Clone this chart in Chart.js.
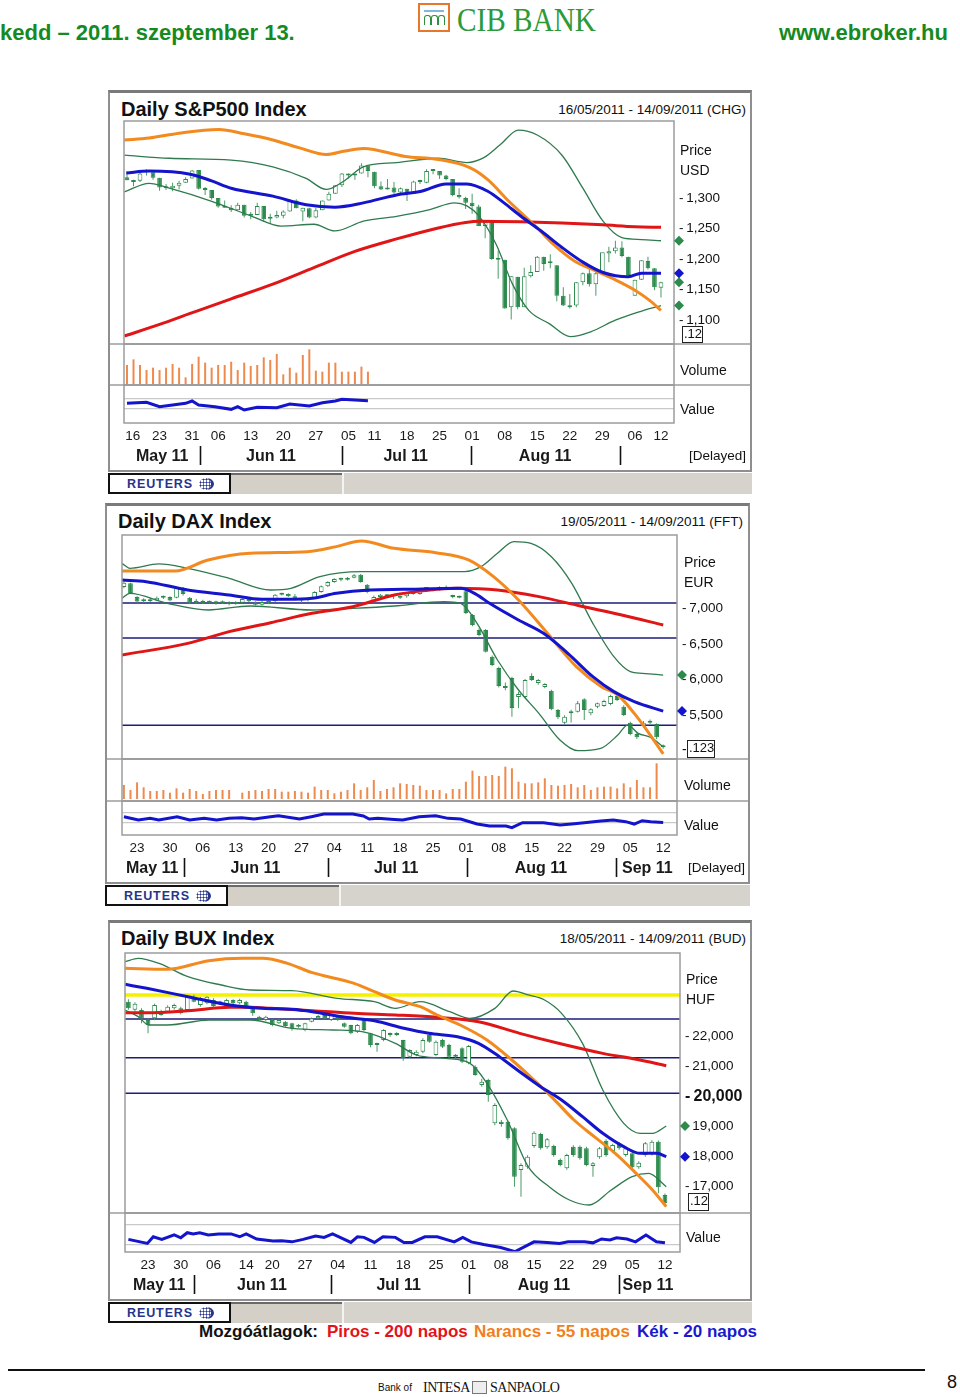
<!DOCTYPE html>
<html>
<head>
<meta charset="utf-8">
<script src="https://cdn.jsdelivr.net/npm/chart.js@4.4.0/dist/chart.umd.min.js"></script>
<style>
  body { margin: 0; background: #fff; }
  #page { position: relative; width: 960px; height: 1397px; overflow: hidden; background: #fff;
    font-family: "Liberation Sans", Arial, sans-serif; color: #111; }
  .t { position: absolute; white-space: nowrap; line-height: 1; }
  .hdr { font-size: 22px; font-weight: bold; color: #168a22; }
  .box { position: absolute; box-sizing: border-box; border: 2px solid #8f8f8f; border-top: 3px solid #7a7a7a; }
  .title { font-size: 20px; font-weight: bold; }
  .range { font-size: 13.5px; }
  .lab { font-size: 14px; color: #111; }
  .cur { position: absolute; box-sizing: border-box; border: 1.5px solid #222; font-size: 13px; line-height: 14px; padding-left: 1px; background: #fff; }
  canvas { position: absolute; }
  .reuters { position: absolute; box-sizing: border-box; width: 123px; height: 21px; border: 2px solid #111; background: #fff; }
  .reuters span { position: absolute; left: 17px; top: 2px; font-size: 12.5px; font-weight: bold; color: #27348b; letter-spacing: 0.9px; }
  .reuters i { position: absolute; left: 89px; top: 3px; width: 12px; height: 12px; border-radius: 50%;
    background: radial-gradient(circle, #27348b 0.9px, transparent 1.2px) 0 0 / 3px 3px; border-right: 3px solid #27348b; }
  .g1 { position: absolute; height: 21px; box-sizing: border-box; background: #d4d0c8; border-top: 2px solid #6a6a6a; }
  .g2 { position: absolute; height: 21px; box-sizing: border-box; background: #d6d3cd; border-left: 2px solid #f4f4f4; }
  .leg { font-size: 17px; font-weight: bold; }
</style>
</head>
<body>
<div id="page">
  <!-- header -->
  <div class="t hdr" style="left:0;top:22px">kedd – 2011. szeptember 13.</div>
  <div class="t hdr" style="right:12px;top:22px">www.ebroker.hu</div>
  <div style="position:absolute;left:418px;top:3px;width:32px;height:29px;box-sizing:border-box;border:2px solid #e8772e;">
    <div style="position:absolute;left:4px;top:5px;width:20px;height:2px;background:#7fb7e0"></div>
    <div style="position:absolute;left:4px;top:10px;width:5px;height:9px;border:1.3px solid #2f8f3f;border-bottom:none;border-radius:3px 3px 0 0"></div>
    <div style="position:absolute;left:11px;top:10px;width:5px;height:9px;border:1.3px solid #2f8f3f;border-bottom:none;border-radius:3px 3px 0 0"></div>
    <div style="position:absolute;left:18px;top:10px;width:5px;height:9px;border:1.3px solid #2f8f3f;border-bottom:none;border-radius:3px 3px 0 0"></div>
  </div>
  <div class="t" style="left:457px;top:3px;font-family:'Liberation Serif','DejaVu Serif',serif;font-size:34px;color:#2c9a3a;transform:scaleX(0.86);transform-origin:left top;">CIB BANK</div>

  <!-- S&P500 -->
  <div class="box" style="left:108px;top:90px;width:644px;height:382px"></div>
  <div class="t title" style="left:121px;top:99px">Daily S&amp;P500 Index</div>
  <div class="t range" style="right:214px;top:103px">16/05/2011 - 14/09/2011 (CHG)</div>
  <canvas id="spx" width="640" height="355" style="left:110px;top:115px"></canvas>
  <div class="t lab" style="left:680px;top:143px">Price</div>
  <div class="t lab" style="left:680px;top:163px">USD</div>
  <div class="cur" style="left:682px;top:326px;width:21px;height:17px">.12</div>
  <div class="t lab" style="left:680px;top:363px">Volume</div>
  <div class="t lab" style="left:680px;top:402px">Value</div>
  <div class="t range" style="right:214px;top:449px">[Delayed]</div>
  <div class="reuters" style="left:108px;top:473px"><span>REUTERS</span><i></i></div>
  <div class="g1" style="left:231px;top:473px;width:111px"></div>
  <div class="g2" style="left:342px;top:473px;width:410px"></div>

  <!-- DAX -->
  <div class="box" style="left:105px;top:503px;width:645px;height:381px"></div>
  <div class="t title" style="left:118px;top:511px">Daily DAX Index</div>
  <div class="t range" style="right:217px;top:515px">19/05/2011 - 14/09/2011 (FFT)</div>
  <canvas id="dax" width="641" height="352" style="left:107px;top:528px"></canvas>
  <div class="t lab" style="left:684px;top:555px">Price</div>
  <div class="t lab" style="left:684px;top:575px">EUR</div>
  <div class="t lab" style="left:682px;top:742px">-</div>
  <div class="cur" style="left:687px;top:740px;width:28px;height:18px">.123</div>
  <div class="t lab" style="left:684px;top:778px">Volume</div>
  <div class="t lab" style="left:684px;top:818px">Value</div>
  <div class="t range" style="right:215px;top:861px">[Delayed]</div>
  <div class="reuters" style="left:105px;top:885px"><span>REUTERS</span><i></i></div>
  <div class="g1" style="left:228px;top:885px;width:111px"></div>
  <div class="g2" style="left:339px;top:885px;width:411px"></div>

  <!-- BUX -->
  <div class="box" style="left:108px;top:920px;width:644px;height:381px"></div>
  <div class="t title" style="left:121px;top:928px">Daily BUX Index</div>
  <div class="t range" style="right:214px;top:932px">18/05/2011 - 14/09/2011 (BUD)</div>
  <canvas id="bux" width="640" height="352" style="left:110px;top:946px"></canvas>
  <div class="t lab" style="left:686px;top:972px">Price</div>
  <div class="t lab" style="left:686px;top:992px">HUF</div>
  <div class="cur" style="left:688px;top:1193px;width:21px;height:18px">.12</div>
  <div class="t lab" style="left:686px;top:1230px">Value</div>
  <div class="reuters" style="left:108px;top:1302px"><span>REUTERS</span><i></i></div>
  <div class="g1" style="left:231px;top:1302px;width:111px"></div>
  <div class="g2" style="left:342px;top:1302px;width:410px"></div>

  <!-- legend -->
  <div class="t leg" style="left:199px;top:1323px">Mozgóátlagok:</div>
  <div class="t leg" style="left:327px;top:1323px;color:#e3131b">Piros - 200 napos</div>
  <div class="t leg" style="left:474px;top:1323px;color:#f07f23">Narancs - 55 napos</div>
  <div class="t leg" style="left:637px;top:1323px;color:#1a1acc">Kék - 20 napos</div>

  <!-- footer -->
  <div style="position:absolute;left:8px;top:1369px;width:917px;height:2px;background:#111"></div>
  <div class="t" style="left:947px;top:1373px;font-size:18px">8</div>
  <div class="t" style="left:378px;top:1383px;font-size:10px">Bank of</div>
  <div class="t" style="left:423px;top:1381px;font-size:14px;font-family:'Liberation Serif',serif;letter-spacing:-0.5px">INTESA</div>
  <div style="position:absolute;left:472px;top:1381px;width:15px;height:13px;box-sizing:border-box;border:1px solid #777;background:#eee"></div>
  <div class="t" style="left:490px;top:1381px;font-size:14px;font-family:'Liberation Serif',serif;letter-spacing:-0.5px">SANPAOLO</div>
</div>

<script>
Chart.defaults.font.family = '"Liberation Sans", Arial, sans-serif';
Chart.defaults.color = '#1a1a1a';

const GREEN = '#2b8a4c';
const BAND = '#2f7a4e';
const BLUE = '#1414cc';
const ORANGE = '#f28a1f';
const RED = '#e01515';
const VOLCOL = '#ef8a4e';
const NAVY = '#1c1c7a';

// ---------- S&P500 (day 0 = 16 May 2011) ----------
const spxOpen = [1334,1326,1328,1342,1342,1333,1317,1316,1320,1325,1332,1346,1315,1313,1300,1286,1284,1280,1289,1272,1272,1287,1266,1268,1271,1278,1296,1278,1283,1268,1280,1296,1307,1321,1340,1337,1340,1353,1343,1319,1314,1317,1309,1315,1307,1328,1325,1344,1344,1337,1331,1305,1300,1292,1286,1254,1261,1200,1199,1121,1171,1121,1172,1179,1204,1193,1190,1140,1121,1124,1162,1177,1159,1177,1209,1213,1219,1204,1140,1166,1197,1185,1153];
const spxHigh = [1343,1330,1341,1347,1342,1333,1323,1325,1328,1334,1346,1346,1318,1313,1300,1296,1288,1292,1289,1277,1292,1287,1274,1279,1280,1298,1298,1284,1284,1284,1296,1310,1321,1341,1340,1340,1357,1353,1343,1327,1331,1326,1317,1315,1328,1330,1347,1347,1344,1338,1331,1316,1302,1307,1289,1261,1261,1214,1199,1172,1171,1186,1190,1205,1204,1208,1190,1154,1143,1162,1178,1190,1181,1210,1220,1230,1229,1204,1166,1198,1204,1185,1163];
const spxLow = [1329,1319,1326,1337,1330,1312,1313,1311,1314,1325,1332,1314,1305,1297,1284,1284,1277,1280,1268,1265,1272,1261,1258,1267,1267,1278,1283,1262,1267,1267,1280,1296,1307,1318,1332,1330,1340,1334,1316,1313,1314,1306,1307,1295,1307,1323,1324,1339,1331,1329,1303,1299,1282,1274,1254,1234,1199,1168,1119,1101,1118,1121,1170,1179,1181,1185,1131,1123,1119,1121,1157,1155,1140,1177,1195,1209,1203,1170,1140,1166,1183,1149,1137];
const spxClose = [1329,1328,1340,1344,1333,1317,1316,1320,1325,1331,1345,1315,1313,1300,1286,1284,1280,1289,1271,1271,1287,1265,1267,1272,1278,1296,1283,1284,1268,1280,1296,1307,1321,1340,1337,1339,1353,1344,1319,1314,1317,1309,1316,1306,1327,1326,1344,1345,1337,1331,1305,1301,1292,1287,1254,1261,1200,1199,1119,1172,1121,1172,1179,1204,1192,1193,1140,1124,1124,1162,1177,1159,1177,1211,1213,1219,1205,1174,1166,1198,1185,1154,1162];
const spxMa20 = [[-0.1,1341],[3.4,1344],[9.7,1339],[13,1328],[16,1316],[22.4,1303],[27.5,1289],[31.9,1285],[36.3,1292],[41.4,1305],[45.2,1311],[49,1323],[52.2,1323],[55.4,1311],[57.9,1292],[60.5,1270],[63.6,1246],[66.8,1219],[70,1195],[73.1,1178],[77,1171],[79,1177],[82,1177]];
const spxMa55 = [[-0.4,1395],[3.4,1398],[8,1406],[14.1,1412],[18,1405],[22.4,1395],[26.5,1382],[30.6,1371],[33.5,1377],[36.3,1381],[42.7,1368],[47.8,1363],[52.8,1349],[55.4,1330],[58.6,1295],[63,1251],[65.5,1224],[68.7,1197],[71.9,1181],[75,1166],[78,1149],[80.3,1132],[82,1116]];
const spxMa200 = [[-0.4,1074],[5,1093],[9.7,1111],[16,1135],[22.4,1159],[28.7,1186],[35.1,1213],[41.4,1233],[47.8,1251],[52,1260],[54.1,1262],[60.5,1261],[66.8,1259],[73.1,1256],[78,1253],[82,1252]];
const spxBandUp = [[-0.4,1370],[6.5,1365],[16,1362],[22.4,1351],[27.5,1332],[30.6,1314],[33.2,1327],[36.3,1351],[41.4,1358],[47.8,1365],[52.2,1358],[54.8,1366],[57.3,1387],[60.1,1411],[63,1403],[66.8,1370],[70,1316],[73.1,1262],[76,1235],[79,1232],[82,1230]];
const spxBandLo = [[-0.4,1310],[3.4,1324],[6.5,1316],[12.9,1295],[19.2,1270],[23.7,1254],[28.7,1257],[31.9,1246],[36.3,1262],[41.4,1270],[46.5,1281],[50.3,1292],[52.2,1287],[54.1,1270],[56.7,1224],[59.2,1159],[61.7,1116],[64.9,1094],[68.1,1073],[71.2,1081],[75,1100],[78.5,1113],[82,1124]];
const spxVolume = [58,75,58,43,50,43,50,61,50,21,61,83,65,50,58,58,68,43,65,55,58,81,73,91,30,50,35,88,105,41,38,65,65,38,38,38,53,38];
const spxValue = [[0,0.53],[3,0.63],[5,0.22],[7,0.38],[9,0.53],[10,0.75],[11,0.38],[13.5,0.22],[16,-0.03],[17,0.22],[18,-0.09],[20,0.16],[23,0.13],[25,0.47],[28,0.28],[30,0.59],[32,0.75],[33,0.91],[35,0.84],[37,0.78]];
const spxDayTicks = [0.9,5,10,14,19,24,29,34,38,43,48,53,58,63,68,73,78,82];
const spxDayLabels = ['16','23','31','06','13','20','27','05','11','18','25','01','08','15','22','29','06','12'];
const spxMonthPos = [5.4,22.1,42.8,64.2];
const spxMonthNames = ['May 11','Jun 11','Jul 11','Aug 11'];
const spxMonthSeps = [11.2,33,52.8,75.7];
const spxPriceTicks = [1300,1250,1200,1150,1100];

// ---------- DAX (day 0 = 19 May 2011) ----------
const daxOpen = [7300,7350,7160,7100,7125,7110,7150,7160,7150,7285,7150,7080,7100,7080,7100,7070,7090,7060,7080,7130,7080,7050,7090,7100,7190,7200,7170,7110,7120,7140,7230,7310,7370,7410,7400,7430,7470,7330,7100,7160,7190,7170,7150,7170,7210,7200,7270,7260,7270,7300,7170,7160,7240,6906,6696,6696,6322,6163,5911,6023,5757,5757,6051,5953,5897,5845,5575,5397,5551,5551,5725,5528,5621,5631,5659,5771,5621,5396,5238,5350,5424,5378,5070];
const daxHigh = [7375,7360,7170,7140,7150,7165,7180,7170,7300,7300,7160,7130,7120,7110,7105,7110,7100,7100,7140,7140,7100,7110,7110,7200,7220,7210,7200,7140,7150,7240,7320,7380,7420,7430,7440,7480,7480,7340,7180,7200,7200,7190,7180,7220,7230,7280,7290,7280,7310,7320,7190,7180,7250,6920,6720,6710,6340,6180,5960,6040,5830,6010,6090,6010,5950,5860,5590,5500,5580,5700,5740,5600,5680,5720,5790,5790,5640,5410,5260,5420,5440,5390,5090];
const daxLow = [7280,7200,7080,7080,7090,7100,7130,7100,7140,7180,7060,7060,7060,7070,7050,7060,7040,7050,7070,7090,7040,7040,7060,7090,7180,7160,7120,7080,7100,7130,7220,7300,7360,7380,7390,7420,7360,7210,7080,7140,7150,7130,7130,7150,7190,7190,7250,7240,7250,7260,7140,7140,6920,6750,6610,6380,6190,5890,5850,5481,5600,5740,5980,5930,5880,5570,5450,5380,5400,5540,5434,5500,5600,5620,5640,5700,5490,5220,5170,5330,5380,5170,5030];
const daxClose = [7360,7215,7095,7125,7100,7150,7165,7110,7285,7200,7080,7105,7075,7100,7070,7090,7060,7080,7130,7100,7050,7090,7080,7190,7205,7170,7130,7120,7140,7230,7310,7370,7410,7400,7430,7465,7370,7230,7160,7190,7170,7180,7170,7210,7200,7270,7280,7270,7300,7275,7160,7150,6934,6766,6626,6392,6205,5911,5883,5603,5799,5995,5995,5995,5939,5584,5472,5481,5528,5668,5575,5584,5668,5701,5771,5715,5504,5238,5192,5396,5396,5192,5052];
const daxMa20 = [[-0.3,7397],[3.4,7374],[9.7,7257],[16,7187],[21,7126],[24.8,7126],[28.6,7140],[32.3,7210],[37.4,7257],[42.4,7266],[51.2,7280],[53.5,7200],[55.6,7070],[60,6836],[63.8,6650],[67.5,6369],[71.3,6042],[74.5,5832],[77.6,5692],[82,5560]];
const daxMa55 = [[-0.3,7523],[7.8,7523],[12.8,7678],[19.2,7771],[27.9,7794],[32.3,7865],[36.1,7944],[41.1,7841],[47.4,7780],[52.4,7678],[56.2,7444],[60,7117],[64.4,6650],[68.8,6182],[72.6,5902],[75.1,5785],[77.6,5528],[79.5,5294],[82,4960]];
const daxMa200 = [[-0.3,6346],[9.7,6509],[16,6673],[22.3,6799],[28.6,6930],[34.8,7023],[41.1,7187],[46,7250],[50.5,7280],[56.8,7257],[63.1,7164],[69.4,7033],[75.7,6907],[82,6766]];
const daxBandUp = [[-0.3,7631],[0.9,7561],[5.3,7622],[9.7,7561],[16,7421],[22.3,7257],[25.4,7280],[29.8,7444],[36.1,7514],[51.8,7514],[54.3,7584],[56.8,7771],[59.3,7935],[61.9,7911],[65,7724],[68.1,7350],[71.3,6790],[74.5,6322],[77,6112],[78.8,6089],[82,6065]];
const daxBandLo = [[-0.3,7140],[0.9,7210],[6.6,7070],[12.8,6977],[19.2,7033],[28.6,6977],[34.8,7000],[41.1,7033],[48.7,7093],[51.2,7070],[53.7,6790],[56.8,6276],[60,5855],[63.1,5528],[66.3,5154],[69,5004],[72.5,5037],[75.1,5224],[76.6,5364],[78.2,5248],[80.1,5192],[82,5060]];
const daxLevels = [7075,6584,5360];
const daxVolume = [42,27,50,35,24,24,27,19,32,19,30,24,15,24,27,27,27,null,19,24,27,24,30,30,22,22,24,22,19,37,27,27,17,22,27,47,27,35,57,24,30,35,47,45,42,40,27,27,27,17,30,30,52,85,69,69,72,69,97,92,52,47,47,50,62,42,40,42,45,35,42,27,35,37,37,32,47,35,57,35,35,107];
const daxValue = [[0,0.58],[2.2,0.26],[4,0.42],[5.3,0.26],[8.1,0.58],[10,0.26],[12.2,0.42],[14.1,0.26],[16,0.42],[17.9,0.48],[19.8,0.35],[22.3,0.58],[23.5,0.68],[26.7,0.35],[28.5,0.58],[30.4,0.84],[34.8,0.84],[36.4,0.65],[37.3,0.35],[38.6,0.42],[41.1,0.32],[42.4,0.26],[44.9,0.58],[47.4,0.68],[49.3,0.42],[51.2,0.35],[53.7,-0.13],[55.6,-0.32],[58.1,-0.32],[59,-0.48],[60.6,0],[63.8,0],[66.3,-0.23],[68.1,-0.13],[70,0],[72.5,0.16],[74.4,0.26],[76.3,0.1],[77.6,-0.13],[78.8,0.19],[80.1,0.1],[82,0.03]];
const daxDayTicks = [2,7,12,17,22,27,32,37,42,47,52,57,62,67,72,77,82];
const daxDayLabels = ['23','30','06','13','20','27','04','11','18','25','01','08','15','22','29','05','12'];
const daxMonthPos = [4.3,20,41.4,63.4,79.6];
const daxMonthNames = ['May 11','Jun 11','Jul 11','Aug 11','Sep 11'];
const daxMonthSeps = [9.1,31,52.1,74.8];
const daxPriceTicks = [7000,6500,6000,5500];

// ---------- BUX (day 0 = 18 May 2011) ----------
const buxOpen = [23167,22900,22889,22556,22611,22833,22833,22944,22944,22889,23333,23056,23111,23222,23111,23022,23222,23111,23167,23000,22667,22556,22556,22444,22500,22444,22333,22222,22500,22611,22722,22556,22667,22444,22389,22167,22556,22111,21722,21889,22111,22056,21889,21333,21389,21500,22056,21389,21889,21722,21333,21611,21111,21000,20389,20556,19112,19167,19167,18945,17556,17667,18356,18756,18312,18356,17890,17612,18333,18333,18278,17689,17978,18534,18189,18445,18056,18112,17645,18056,18089,18500,16723];
const buxHigh = [23250,23150,22950,22600,23100,22900,23050,23100,23000,23380,23400,23320,23350,23280,23200,23260,23250,23260,23200,23020,22700,22700,22580,22600,22520,22460,22420,22460,22640,22720,22740,22760,22700,22470,22400,22420,22580,22130,21800,22250,22140,22150,21900,21580,21550,21950,22100,21870,21930,21760,21420,21650,21720,21050,20600,20600,19780,19220,19200,18980,17780,18050,18850,18800,18620,18400,17940,18100,18380,18370,18330,17820,18320,18580,18430,18490,18320,18160,17850,18490,18550,18540,16770];
const buxLow = [22900,22850,22444,22111,22550,22700,22800,22900,22750,22850,23150,23000,23080,23000,23080,23000,23080,23080,22980,22700,22550,22520,22350,22420,22330,22200,22300,22180,22480,22580,22580,22520,22520,22300,22080,22120,22180,21650,21500,21850,22000,22020,21200,21300,21350,21450,21800,21350,21620,21280,21250,21120,21080,20700,20330,19830,19050,19000,18560,16999,16667,17600,18300,18230,18260,18000,17680,17560,18000,17900,17680,17333,17930,18000,18140,18230,18000,17600,17600,18000,18040,16780,16400];
const buxClose = [22944,23100,22611,22389,23056,22722,23000,23056,22778,23333,23167,23278,23333,23022,23167,23222,23111,23222,23000,22778,22578,22667,22389,22556,22356,22278,22389,22444,22611,22689,22611,22722,22556,22333,22111,22389,22222,21722,21778,22222,22056,22111,21278,21556,21500,21889,21833,21833,21667,21333,21389,21167,21689,20723,20500,20056,19723,19089,18612,17333,17723,18000,18800,18278,18578,18056,17723,18056,18056,17945,17723,17778,18278,18056,18389,18278,18278,17645,17800,18445,18500,16979,16446];
const buxMa20 = [[-0.5,23744],[2.8,23611],[9.1,23333],[15.5,23056],[20.5,22944],[25,22911],[28.1,22833],[33.2,22644],[37.6,22533],[42.1,22278],[45.9,22111],[50.3,22000],[53.5,21778],[56.7,21333],[59.8,20833],[63,20333],[66.2,19889],[69.4,19333],[72.5,18778],[75.7,18333],[78.2,18111],[80.8,18111],[82.2,18000]];
const buxMa55 = [[-0.5,24278],[5.9,24244],[12.3,24533],[17.4,24611],[20.5,24611],[24.3,24444],[28.1,24133],[34.5,23778],[37.6,23500],[40.8,23222],[44.6,23000],[47.2,22722],[50.7,22389],[54.8,21889],[58.6,21222],[61.7,20611],[64.9,19944],[68.1,19222],[71.2,18667],[74.4,18111],[77.6,17444],[80.1,16889],[82.2,16333]];
const buxMa200 = [[-0.5,22800],[2.8,22800],[9.1,22867],[15.5,22978],[18.6,22978],[21.8,22944],[28.1,22867],[34.5,22778],[40.8,22722],[47.2,22644],[53.5,22500],[59.8,22111],[66.2,21756],[72.5,21444],[77.6,21244],[82.2,21033]];
const buxBandUp = [[-0.5,24500],[1.5,24611],[4.7,24444],[9.1,24000],[14.2,23722],[18.6,23556],[25,23533],[31.9,23278],[37.6,23167],[40.8,22944],[44.6,23167],[49.1,22833],[52.2,22611],[56,22944],[58.8,23522],[61.1,23389],[63.6,23222],[66.2,22778],[69.4,21778],[72.5,20222],[75.7,19111],[78.2,18778],[80.1,18778],[82.2,19022]];
const buxBandLo = [[-0.5,22889],[1.5,22667],[3.1,22389],[6,22389],[12.3,22556],[18.6,22556],[25,22278],[31.3,22222],[35.7,22167],[40.8,21778],[44,21389],[48.4,21278],[52.2,21111],[54.8,20444],[57.9,19222],[61.1,17667],[64.3,17000],[67.4,16556],[70.4,16389],[73.8,16889],[77,17333],[79.5,17444],[82.2,17000]];
const buxLevels = [22589,21300,20111];
const buxYellow = [23389];
const buxValue = [[0,0.25],[2.9,0.05],[3.8,0.38],[5.1,0.25],[7,0.47],[8,0.33],[9,0.58],[9.9,0.52],[10.9,0.58],[12.2,0.47],[13.8,0.52],[15.7,0.52],[17,0.38],[18,0.52],[19.6,0.27],[22.1,0.17],[23.4,0.18],[25,0.13],[26.7,0.25],[28.6,0.42],[29.9,0.35],[31.2,0.52],[34,0.1],[35,0.38],[36,0.35],[37.6,0.1],[38.9,0.38],[40.8,0.35],[42.1,0.1],[43.4,0.1],[45.3,0.38],[47.2,0.38],[49.8,0.13],[51.1,0.35],[52.4,0.13],[54.3,0],[56.9,-0.15],[59.1,-0.35],[62,0.13],[64,0.1],[65.9,0.05],[67.2,0.13],[69.7,0.13],[71,0.08],[72.3,0.27],[73.6,0.22],[74.6,0.33],[76.2,0.27],[77.5,0.13],[79.1,0.47],[80.7,0.13],[82,0.08]];
const buxDayTicks = [3,8,13,18,22,27,32,37,42,47,52,57,62,67,72,77,82];
const buxDayLabels = ['23','30','06','14','20','27','04','11','18','25','01','08','15','22','29','05','12'];
const buxMonthPos = [4.7,20.4,41.3,63.5,79.4];
const buxMonthNames = ['May 11','Jun 11','Jul 11','Aug 11','Sep 11'];
const buxMonthSeps = [10,31,52.1,75];
const buxPriceTicks = [22000,21000,20000,19000,18000,17000];

// panel borders, dividers running across the whole box
const frames = {
  id: 'frames',
  afterDatasetsDraw(chart, args, opts) {
    const { ctx, chartArea } = chart;
    ctx.save();
    ctx.strokeStyle = '#9c9c9c';
    ctx.lineWidth = 1.5;
    opts.ids.forEach((id, i) => {
      const s = chart.scales[id];
      ctx.strokeRect(chartArea.left, s.top, chartArea.right - chartArea.left, s.bottom - s.top);
      if (i < opts.ids.length - 1) {
        ctx.beginPath();
        ctx.moveTo(0, s.bottom);
        ctx.lineTo(chart.width, s.bottom);
        ctx.stroke();
      }
    });
    ctx.restore();
  },
};

// diamonds on the price axis at the last value of some series
const endMarkers = {
  id: 'endMarkers',
  afterDatasetsDraw(chart) {
    const { ctx, chartArea } = chart;
    ctx.save();
    chart.data.datasets.forEach((ds) => {
      if (!ds.markerColor) return;
      const last = ds.data[ds.data.length - 1];
      const v = Array.isArray(last.y) ? last.y[1] : last.y;
      const y = chart.scales[ds.yAxisID || 'y'].getPixelForValue(v);
      const x = chartArea.right + 5;
      ctx.fillStyle = ds.markerColor;
      ctx.beginPath();
      ctx.moveTo(x, y - 5);
      ctx.lineTo(x + 5, y);
      ctx.lineTo(x, y + 5);
      ctx.lineTo(x - 5, y);
      ctx.closePath();
      ctx.fill();
    });
    ctx.restore();
  },
};

// vertical separators between month names
const monthSeps = {
  id: 'monthSeps',
  afterDraw(chart, args, opts) {
    const s = chart.scales.xm;
    const { ctx } = chart;
    ctx.save();
    ctx.strokeStyle = '#111';
    ctx.lineWidth = 1.6;
    opts.values.forEach((v) => {
      const x = Math.round(s.getPixelForValue(v)) + 0.5;
      ctx.beginPath();
      ctx.moveTo(x, s.top + 1);
      ctx.lineTo(x, s.bottom - 2);
      ctx.stroke();
    });
    ctx.restore();
  },
};

function lineSet(points, color, width, order, extra) {
  return Object.assign({
    type: 'line',
    data: points.map(([x, y]) => ({ x, y })),
    borderColor: color,
    borderWidth: width,
    pointRadius: 0,
    cubicInterpolationMode: 'monotone',
    yAxisID: 'y',
    order,
  }, extra || {});
}

function candleSets(open, high, low, close, closeMarker) {
  const wicks = close.map((c, i) => ({ x: i, y: [low[i], high[i]] }));
  const bodies = close.map((c, i) => ({ x: i, y: [open[i], c] }));
  return [
    { type: 'bar', data: wicks, backgroundColor: '#4c9a68', maxBarThickness: 1, grouped: false, yAxisID: 'y', order: 9 },
    {
      type: 'bar', data: bodies,
      backgroundColor: close.map((c, i) => (c >= open[i] ? '#ffffff' : GREEN)),
      borderColor: GREEN, borderWidth: 1, borderSkipped: false,
      maxBarThickness: 5, minBarLength: 2, grouped: false, yAxisID: 'y', order: 8,
      markerColor: closeMarker ? GREEN : undefined,
    },
  ];
}

function levelSets(levels, color, width, xMin, xMax) {
  return levels.map((v) => ({
    type: 'line', data: [{ x: xMin, y: v }, { x: xMax, y: v }],
    borderColor: color, borderWidth: width, pointRadius: 0, yAxisID: 'y', order: 12,
  }));
}

function dateAxis(c, pos, names, size, bold, pad) {
  return {
    type: 'linear', position: 'bottom', min: c.xMin, max: c.xMax, offset: false,
    grid: { display: false, drawTicks: false }, border: { display: false },
    afterBuildTicks: (s) => { s.ticks = pos.map((v) => ({ value: v })); },
    afterFit: (s) => { s.height = 22; s.paddingLeft = 0; s.paddingRight = 0; },
    ticks: {
      autoSkip: false, maxRotation: 0, padding: pad, color: '#1a1a1a',
      font: { size, weight: bold ? 'bold' : 'normal' },
      callback: (v, i) => names[i],
    },
  };
}

function buildChart(id, c) {
  const datasets = [];
  if (c.levels) datasets.push(...levelSets(c.levels, NAVY, 1.5, c.xMin, c.xMax));
  if (c.yellow) datasets.push(...levelSets(c.yellow, '#f5f000', 3.5, c.xMin, c.xMax));
  datasets.push(...candleSets(c.open, c.high, c.low, c.close, c.closeMarker));
  datasets.push(lineSet(c.bandUp, BAND, 1.3, 7, { markerColor: GREEN }));
  datasets.push(lineSet(c.bandLo, BAND, 1.3, 7, c.lowMarker ? { markerColor: GREEN } : {}));
  datasets.push(lineSet(c.ma200, RED, 3, 3));
  datasets.push(lineSet(c.ma55, ORANGE, 3, 2));
  datasets.push(lineSet(c.ma20, BLUE, 3, 1, { markerColor: BLUE }));
  if (c.volume) {
    datasets.push({
      type: 'bar', data: c.volume.map((v, i) => ({ x: i, y: v })),
      backgroundColor: VOLCOL, maxBarThickness: 2, grouped: false, yAxisID: 'vol', order: 5,
    });
  }
  datasets.push(lineSet(c.value, BLUE, 3, 4, { yAxisID: 'val', cubicInterpolationMode: 'default', tension: 0 }));

  const fixW = (s) => { s.width = c.axisW; s.paddingTop = 0; s.paddingBottom = 0; };
  const scales = {
    x: dateAxis(c, c.dayTicks, c.dayLabels, 13.5, false, 5),
    xm: dateAxis(c, c.monthPos, c.monthNames, 16, true, 1.5),
    y: {
      type: 'linear', position: 'right', stack: 'panels', stackWeight: c.weights[0],
      min: c.pMin, max: c.pMax, grid: { display: false, drawTicks: false }, border: { display: false },
      afterBuildTicks: (s) => { s.ticks = c.priceTicks.map((v) => ({ value: v })); },
      afterFit: fixW,
      ticks: {
        padding: 5, color: '#111',
        font: (ctx) => (ctx.tick && ctx.tick.value === c.boldTick ? { size: 16, weight: 'bold' } : { size: 13.5 }),
        callback: (v) => '-\u2009' + v.toLocaleString('en-US'),
      },
    },
  };
  const ids = ['y'];
  if (c.volume) {
    scales.vol = {
      type: 'linear', position: 'right', stack: 'panels', stackWeight: c.weights[1],
      min: c.volMin, max: c.volMax, grid: { display: false, drawTicks: false }, border: { display: false },
      ticks: { display: false }, afterFit: fixW,
    };
    ids.push('vol');
  }
  scales.val = {
    type: 'linear', position: 'right', stack: 'panels', stackWeight: c.weights[c.weights.length - 1],
    min: c.valMin, max: c.valMax, border: { display: false },
    grid: { color: '#c9c9c9', lineWidth: 1.2, drawTicks: false },
    afterBuildTicks: (s) => { s.ticks = [0, 1].map((v) => ({ value: v })); },
    ticks: { display: false }, afterFit: fixW,
  };
  ids.push('val');

  return new Chart(document.getElementById(id), {
    type: 'bar',
    data: { datasets },
    options: {
      responsive: false,
      animation: false,
      events: [],
      layout: { padding: c.pad },
      plugins: {
        legend: { display: false },
        tooltip: { enabled: false },
        frames: { ids },
        monthSeps: { values: c.monthSeps },
      },
      scales,
    },
    plugins: [frames, endMarkers, monthSeps],
  });
}

buildChart('spx', {
  open: spxOpen, high: spxHigh, low: spxLow, close: spxClose,
  ma20: spxMa20, ma55: spxMa55, ma200: spxMa200, bandUp: spxBandUp, bandLo: spxBandLo,
  volume: spxVolume, value: spxValue, closeMarker: true, lowMarker: true,
  dayTicks: spxDayTicks, dayLabels: spxDayLabels,
  monthPos: spxMonthPos, monthNames: spxMonthNames, monthSeps: spxMonthSeps,
  priceTicks: spxPriceTicks,
  xMin: -0.46, xMax: 84, pMin: 1061, pMax: 1426, volMin: -2, volMax: 121, valMin: -1.31, valMax: 2.25,
  weights: [223, 41, 38], axisW: 72, pad: { left: 14, top: 6, right: 4, bottom: 3 },
});

buildChart('dax', {
  open: daxOpen, high: daxHigh, low: daxLow, close: daxClose,
  ma20: daxMa20, ma55: daxMa55, ma200: daxMa200, bandUp: daxBandUp, bandLo: daxBandLo,
  levels: daxLevels, volume: daxVolume, value: daxValue,
  dayTicks: daxDayTicks, dayLabels: daxDayLabels,
  monthPos: daxMonthPos, monthNames: daxMonthNames, monthSeps: daxMonthSeps,
  priceTicks: daxPriceTicks,
  xMin: -0.29, xMax: 84.1, pMin: 4888, pMax: 8028, volMin: -6, volMax: 120, valMin: -1.19, valMax: 2.1,
  weights: [224, 42, 34], axisW: 67, pad: { left: 15, top: 7, right: 4, bottom: 1 },
});

buildChart('bux', {
  open: buxOpen, high: buxHigh, low: buxLow, close: buxClose,
  ma20: buxMa20, ma55: buxMa55, ma200: buxMa200, bandUp: buxBandUp, bandLo: buxBandLo,
  levels: buxLevels, yellow: buxYellow, value: buxValue, boldTick: 20000,
  dayTicks: buxDayTicks, dayLabels: buxDayLabels,
  monthPos: buxMonthPos, monthNames: buxMonthNames, monthSeps: buxMonthSeps,
  priceTicks: buxPriceTicks,
  xMin: -0.52, xMax: 84.3, pMin: 16122, pMax: 24789, valMin: -0.37, valMax: 1.55,
  weights: [260, 39], axisW: 66, pad: { left: 15, top: 7, right: 4, bottom: 2 },
});
</script>
</body>
</html>
